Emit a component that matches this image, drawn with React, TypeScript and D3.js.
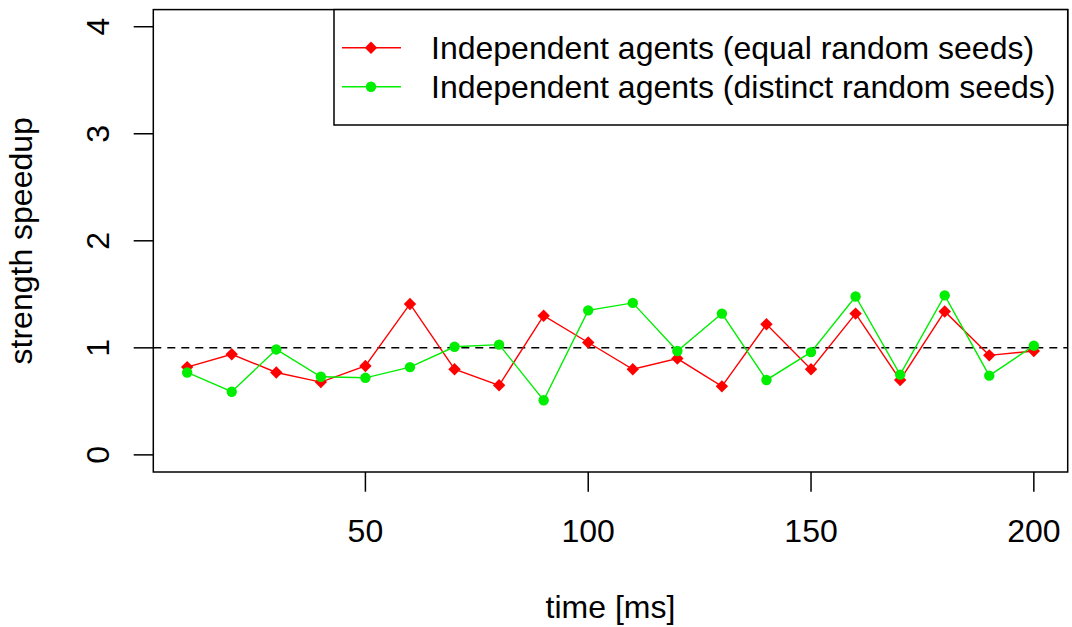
import React from "react";
import * as d3 from "d3";

const times = [10, 20, 30, 40, 50, 60, 70, 80, 90, 100, 110, 120, 130, 140, 150, 160, 170, 180, 190, 200];
const equalSeeds = [0.82, 0.94, 0.77, 0.68, 0.83, 1.41, 0.80, 0.65, 1.30, 1.05, 0.80, 0.90, 0.64, 1.22, 0.80, 1.32, 0.70, 1.34, 0.93, 0.97];
const distinctSeeds = [0.77, 0.59, 0.985, 0.73, 0.72, 0.82, 1.01, 1.03, 0.51, 1.35, 1.42, 0.97, 1.32, 0.70, 0.96, 1.48, 0.75, 1.49, 0.74, 1.02];
const xTicks = [50, 100, 150, 200];
const yTicks = [0, 1, 2, 3, 4];
const legendLabels = ["Independent agents (equal random seeds)", "Independent agents (distinct random seeds)"];
const seriesColors = ["#FF0000", "#00EE00"];

const W = 1072, H = 627;
const L = 153.3, R = 1067.7, T = 9.6, B = 472;
const FONT = "'Liberation Sans', Arial, Helvetica, sans-serif";

export default function App() {
  const xPad = (200 - 10) * 0.04;
  const x = d3.scaleLinear().domain([10 - xPad, 200 + xPad]).range([L, R]);
  const y = d3.scaleLinear().domain([-0.16, 4.16]).range([B, T]);
  const line = d3.line<[number, number]>().x(d => x(d[0])).y(d => y(d[1]));
  const redPts = times.map((t, i) => [t, equalSeeds[i]] as [number, number]);
  const greenPts = times.map((t, i) => [t, distinctSeeds[i]] as [number, number]);
  const diamond = (cx: number, cy: number, r: number) => `M${cx},${cy - r}L${cx + r},${cy}L${cx},${cy + r}L${cx - r},${cy}Z`;
  const fs = 32;
  const sw = 1.5;
  return (
    <svg width={W} height={H} style={{ position: "absolute", left: 0, top: 0, background: "#fff" }} fontFamily={FONT}>
      <rect x={0} y={0} width={W} height={H} fill="#fff" />
      {/* reference line */}
      <line x1={L} x2={R} y1={y(1)} y2={y(1)} stroke="#000" strokeWidth={sw} strokeDasharray="8,6" />
      {/* series */}
      <path d={line(redPts) || ""} fill="none" stroke={seriesColors[0]} strokeWidth={1.4} />
      <path d={line(greenPts) || ""} fill="none" stroke={seriesColors[1]} strokeWidth={1.4} />
      {redPts.map((p, i) => (
        <path key={"r" + i} d={diamond(x(p[0]), y(p[1]), 6.2)} fill={seriesColors[0]} />
      ))}
      {greenPts.map((p, i) => (
        <circle key={"g" + i} cx={x(p[0])} cy={y(p[1])} r={5.2} fill={seriesColors[1]} />
      ))}
      {/* box */}
      <rect x={L} y={T} width={R - L} height={B - T} fill="none" stroke="#000" strokeWidth={sw} />
      {/* x axis */}
      {xTicks.map(t => (
        <g key={"xt" + t}>
          <line x1={x(t)} x2={x(t)} y1={B} y2={B + 19.7} stroke="#000" strokeWidth={sw} />
          <text x={x(t)} y={541.5} textAnchor="middle" fontSize={fs}>{t}</text>
        </g>
      ))}
      {/* y axis */}
      {yTicks.map(t => (
        <g key={"yt" + t}>
          <line x1={L - 19.6} x2={L} y1={y(t)} y2={y(t)} stroke="#000" strokeWidth={sw} />
          <text transform={`translate(108.5,${y(t)}) rotate(-90)`} textAnchor="middle" fontSize={fs}>{t}</text>
        </g>
      ))}
      <text x={(L + R) / 2} y={618} textAnchor="middle" fontSize={fs}>time [ms]</text>
      <text transform={`translate(32,${(T + B) / 2}) rotate(-90)`} textAnchor="middle" fontSize={fs}>strength speedup</text>
      {/* legend */}
      <rect x={334} y={T} width={R - 334} height={125 - T} fill="#fff" stroke="#000" strokeWidth={sw} />
      {legendLabels.map((lab, i) => {
        const cy = 47.7 + i * 39;
        return (
          <g key={"lg" + i}>
            <line x1={342} x2={401} y1={cy} y2={cy} stroke={seriesColors[i]} strokeWidth={1.4} />
            {i === 0 ? <path d={diamond(371, cy, 6.2)} fill={seriesColors[i]} /> : <circle cx={371} cy={cy} r={5.2} fill={seriesColors[i]} />}
            <text x={431} y={cy + 11} fontSize={fs}>{lab}</text>
          </g>
        );
      })}
    </svg>
  );
}
